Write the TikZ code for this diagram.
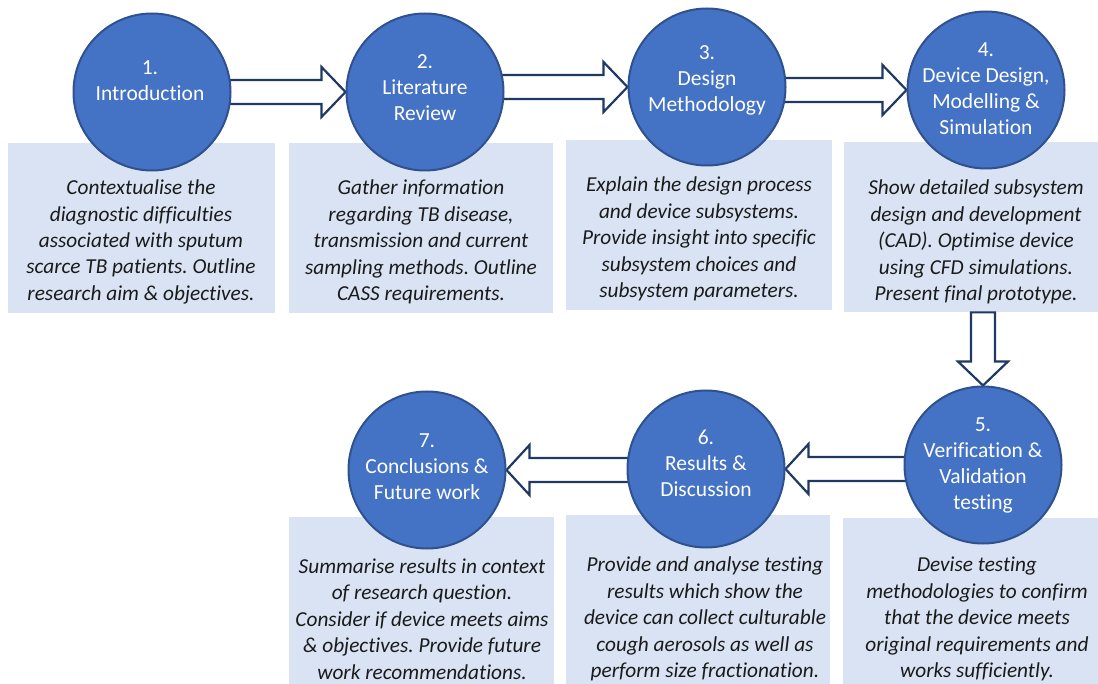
\documentclass[tikz,border=0pt]{standalone}
\usepackage{fontspec}
\setmainfont{Carlito}[Ligatures=NoCommon]
\usetikzlibrary{calc}
\definecolor{cfill}{HTML}{4472C4}
\definecolor{cedge}{HTML}{2F528F}
\definecolor{bfill}{HTML}{DAE3F3}
\definecolor{aedge}{HTML}{1F3864}
\definecolor{tcol}{HTML}{1A1A1A}
\frenchspacing
\begin{document}
\begin{tikzpicture}[x=1pt,y=-1pt,
 stage/.style={circle,draw=cedge,fill=cfill,line width=2pt,minimum size=157pt,inner sep=0pt},
 stagetext/.style={text=white,align=center,font=\fontsize{21.5}{26}\selectfont,inner sep=0pt},
 infobox/.style={fill=bfill,inner sep=0pt,anchor=north west},
 infotext/.style={text=tcol,align=center,font=\fontsize{21.3}{26.4}\selectfont\itshape,inner sep=0pt},
 barrow/.style={draw=aedge,fill=white,line width=2.2pt,line join=miter}]
\useasboundingbox (0,0) rectangle (1098,684);

% info boxes
\node[infobox,minimum width=267pt,minimum height=170pt] (b1) at (8,143) {};
\node[infobox,minimum width=264pt,minimum height=170pt] (b2) at (289,143) {};
\node[infobox,minimum width=266pt,minimum height=170pt] (b3) at (566,140) {};
\node[infobox,minimum width=254pt,minimum height=170pt] (b4) at (844,142) {};
\node[infobox,minimum width=265pt,minimum height=167pt] (b7) at (289,517) {};
\node[infobox,minimum width=264pt,minimum height=169pt] (b6) at (566,515) {};
\node[infobox,minimum width=255pt,minimum height=166pt] (b5) at (843,518) {};

% circle positions (circles drawn later, over the arrows)
\path (152,92) coordinate (p1) (425,92) coordinate (p2) (707,87) coordinate (p3)
      (986,90) coordinate (p4) (983,465) coordinate (p5) (706,469) coordinate (p6)
      (427,470) coordinate (p7);
\path node[stage,draw=none,fill=none] (g2) at (p2) {}
  node[stage,draw=none,fill=none] (g3) at (p3) {}
  node[stage,draw=none,fill=none] (g4) at (p4) {}
  node[stage,draw=none,fill=none] (g5) at (p5) {}
  node[stage,draw=none,fill=none] (g6) at (p6) {}
  node[stage,draw=none,fill=none] (g7) at (p7) {};

% right-pointing block arrows
\foreach \a/\b in {p1/g2,p2/g3,p3/g4}{
  \coordinate (s) at (\a |- \b.west);
  \draw[barrow] ($(s)+(0,-12)$) -- ($(\b.west)+(-24,-12)$) -- ($(\b.west)+(-24,-25)$)
     -- (\b.west) -- ($(\b.west)+(-24,25)$) -- ($(\b.west)+(-24,12)$) -- ($(s)+(0,12)$);
}
% left-pointing block arrows
\foreach \a/\b in {p5/g6,p6/g7}{
  \coordinate (s) at (\a |- \b.east);
  \draw[barrow] ($(s)+(0,-12)$) -- ($(\b.east)+(23,-12)$) -- ($(\b.east)+(23,-25)$)
     -- (\b.east) -- ($(\b.east)+(23,25)$) -- ($(\b.east)+(23,12)$) -- ($(s)+(0,12)$);
}
% down arrow
\coordinate (d0) at (g5.north |- b4.south);
\draw[barrow] ($(d0)+(-12,0)$) -- ($(g5.north)+(-12,-24)$) -- ($(g5.north)+(-25,-24)$)
   -- (g5.north) -- ($(g5.north)+(25,-24)$) -- ($(g5.north)+(12,-24)$) -- ($(d0)+(12,0)$) -- cycle;

% circles
\node[stage] (c1) at (p1) {};
\node[stage] (c2) at (p2) {};
\node[stage] (c3) at (p3) {};
\node[stage] (c4) at (p4) {};
\node[stage] (c5) at (p5) {};
\node[stage] (c6) at (p6) {};
\node[stage] (c7) at (p7) {};

% circle texts
\node[stagetext] (t1) at (150,81) {1.\\Introduction};
\node[stagetext] (t2) at (425,88) {2.\\Literature\\Review};
\node[stagetext] (t3) at (707,80) {3.\\Design\\Methodology};
\node[stagetext] (t4) at (986,89) {4.\\Device Design,\\Modelling \&\\Simulation};
\node[stagetext] (t5) at (983,465) {5.\\Verification \&\\Validation\\testing};
\node[stagetext] (t6) at (706,463) {6.\\Results \&\\Discussion};
\node[stagetext] (t7) at (427,467) {7.\\Conclusions \&\\Future work};

% box texts
\node[infotext] (x1) at (141,242) {Contextualise the\\diagnostic difficulties\\associated with sputum\\scarce TB patients. Outline\\research aim \& objectives.};
\node[infotext] (x2) at (421,242) {Gather information\\regarding TB disease,\\transmission and current\\sampling methods. Outline\\CASS requirements.};
\node[infotext] (x3) at (699,239) {Explain the design process\\and device subsystems.\\Provide insight into specific\\subsystem choices and\\subsystem parameters.};
\node[infotext] (x4) at (976,242) {Show detailed subsystem\\design and development\\(CAD). Optimise device\\using CFD simulations.\\Present final prototype.};
\node[infotext] (x7) at (422,619) {Summarise results in context\\of research question.\\Consider if device meets aims\\\& objectives. Provide future\\work recommendations.};
\node[infotext] (x6) at (705,619) {Provide and analyse testing\\results which show the\\device can collect culturable\\cough aerosols as well as\\perform size fractionation.};
\node[infotext] (x5) at (977,619) {Devise testing\\methodologies to confirm\\that the device meets\\original requirements and\\works sufficiently.};
\end{tikzpicture}
\end{document}
